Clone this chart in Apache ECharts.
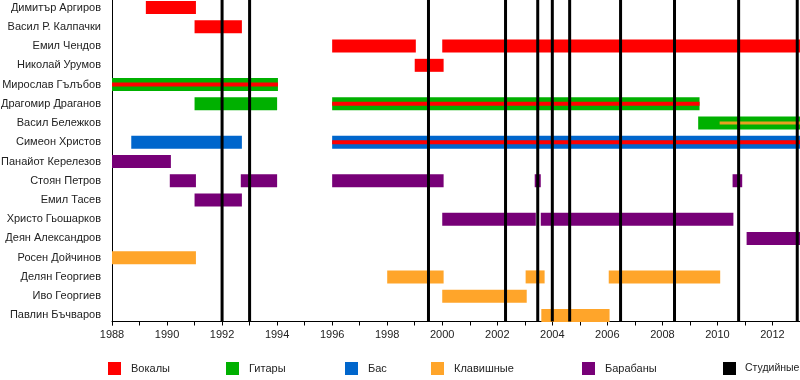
<!DOCTYPE html>
<html><head><meta charset="utf-8">
<script src="https://cdn.jsdelivr.net/npm/echarts@6/dist/echarts.min.js"></script>
<style>html,body{margin:0;padding:0;background:#fff}#c{width:800px;height:380px}</style>
</head><body><div id="c"></div>
<script>
const members = ['Димитър Аргиров','Васил Р. Калпачки','Емил Чендов','Николай Урумов','Мирослав Гълъбов','Драгомир Драганов','Васил Бележков','Симеон Христов','Панайот Керелезов','Стоян Петров','Емил Тасев','Христо Гьошарков','Деян Александров','Росен Дойчинов','Делян Георгиев','Иво Георгиев','Павлин Бъчваров'];
const roles = ['Вокалы','Гитары','Бас','Клавишные','Барабаны','Студийные'];
const yearMin = 1988, yearMax = 2013;
// [memberIndex, start, end]
const vocalSpans = [[0,1989.23,1991.05],[1,1991.0,1992.72],[2,1996.0,1999.04],[2,2000.0,2013],[3,1999.0,2000.05]];
const vocalStripes = [[4,1988,1994.03],[5,1996,2009.35],[7,1996,2013]];
const guitarSpans = [[4,1988,1994.03],[5,1991,1994.0],[5,1996,2009.35],[6,2009.3,2013]];
const bassSpans = [[7,1988.7,1992.72],[7,1996,2013]];
const keysSpans = [[13,1988,1991.05],[14,1998.0,2000.05],[14,2003.03,2003.72],[14,2006.05,2010.1],[15,2000.0,2003.07],[16,2003.6,2006.08]];
const keysStripes = [[6,2010.08,2013]];
const drumSpans = [[8,1988,1990.14],[9,1990.1,1991.05],[9,1992.68,1994.0],[9,1996,2000.05],[9,2003.36,2003.58],[9,2010.55,2010.9],[10,1991.0,1992.72],[11,2000.0,2003.4],[11,2003.58,2010.58],[12,2011.06,2013]];
const studioAlbums = [1992.0,1993.0,1999.5,2002.3,2003.47,2004.0,2004.63,2006.48,2008.44,2010.77,2012.9];

const colors = {'Вокалы':'#ff0000','Гитары':'#00b000','Бас':'#0066cc','Клавишные':'#ffa52a','Барабаны':'#770077','Студийные':'#000000'};
const FONT = '"Liberation Sans", Arial, sans-serif';

function spanSeries(name, data, color, h, z) {
  return {
    type:'custom', name, data, z, itemStyle:{color},
    encode:{x:[1,2], y:0},
    renderItem(params, api){
      const row = api.value(0);
      const a = api.coord([api.value(1), row]);
      const b = api.coord([api.value(2), row]);
      return {type:'rect', shape:{x:a[0], y:a[1]-h/2, width:b[0]-a[0], height:h}, style:{fill:color}};
    }
  };
}

const series = [
  spanSeries('Вокалы', vocalSpans, colors['Вокалы'], 13, 2),
  spanSeries('Гитары', guitarSpans, colors['Гитары'], 13, 2),
  spanSeries('Бас', bassSpans, colors['Бас'], 13, 2),
  spanSeries('Клавишные', keysSpans, colors['Клавишные'], 13, 2),
  spanSeries('Барабаны', drumSpans, colors['Барабаны'], 13, 2),
  spanSeries('Вокалы-полоса', vocalStripes, colors['Вокалы'], 4, 3),
  spanSeries('Клавишные-полоса', keysStripes, '#e8a020', 3, 3),
  {
    type:'custom', name:'Студийные', z:4, itemStyle:{color:'#000'},
    data: studioAlbums.map(v=>[v]), encode:{x:0},
    renderItem(params, api){
      const x = api.coord([api.value(0), 0])[0];
      const cs = params.coordSys;
      return {type:'line', shape:{x1:x, y1:cs.y, x2:x, y2:cs.y+cs.height-3.5}, style:{stroke:'#000', lineWidth:3}};
    }
  }
];

const legendLeft = [108, 226, 345, 431, 582, 723];
const legend = roles.map((r,i)=>({
  data:[r], left:legendLeft[i], top:362, padding:0, itemWidth:13, itemHeight:13, icon:'rect',
  selectedMode:false,
  textStyle:{fontSize: i === 5 ? 10.5 : 11, color:'#222', fontFamily:FONT, padding:[0,0,0, i === 5 ? 4 : 5]}
}));

const chart = echarts.init(document.getElementById('c'), null, {renderer:'canvas'});
chart.setOption({
  animation:false,
  grid:{left:112, right:0, top:-2, height:327, containLabel:false, outerBoundsMode:'none'},
  legend,
  xAxis:{
    type:'value', min:yearMin, max:yearMax, interval:1, offset:-3.5,
    axisLine:{show:true, onZero:false, lineStyle:{color:'#000', width:1}},
    axisTick:{show:true, length:4, lineStyle:{color:'#000'}},
    splitLine:{show:false},
    axisLabel:{margin:8, fontSize:11, color:'#222', fontFamily:FONT,
      formatter:v => (v % 2 === 0 && v < yearMax) ? String(v) : ''}
  },
  yAxis:{
    type:'category', data:members, inverse:true,
    axisLine:{show:true, lineStyle:{color:'#000', width:1}},
    axisTick:{show:false},
    axisLabel:{margin:11, fontSize:11, color:'#222', fontFamily:FONT},
    splitLine:{show:false}
  },
  series
});
</script></body></html>
